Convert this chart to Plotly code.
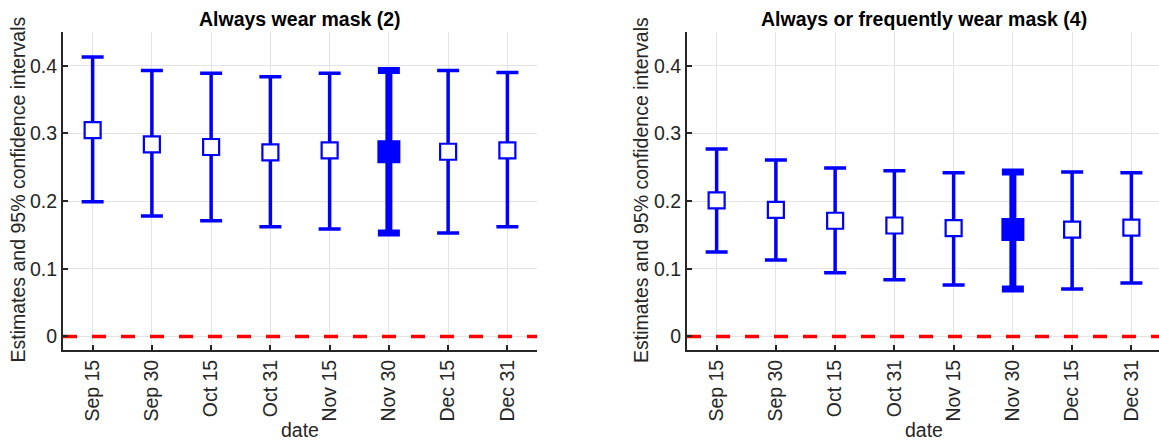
import plotly.graph_objects as go

# ---- data ----
dates = ["Sep 15", "Sep 30", "Oct 15", "Oct 31", "Nov 15", "Nov 30", "Dec 15", "Dec 31"]
positions = [1, 2, 3, 4, 5, 6, 7, 8]
highlight_date = "Nov 30"

always_est = [0.305, 0.284, 0.280, 0.272, 0.275, 0.273, 0.273, 0.275]
always_lo = [0.199, 0.178, 0.171, 0.162, 0.159, 0.153, 0.153, 0.162]
always_hi = [0.413, 0.393, 0.389, 0.384, 0.389, 0.393, 0.393, 0.390]

freq_est = [0.201, 0.187, 0.171, 0.164, 0.160, 0.158, 0.158, 0.161]
freq_lo = [0.125, 0.113, 0.094, 0.084, 0.076, 0.070, 0.070, 0.079]
freq_hi = [0.277, 0.261, 0.249, 0.245, 0.242, 0.243, 0.243, 0.242]

y_ticks = [0, 0.1, 0.2, 0.3, 0.4]
y_tick_text = ["0", "0.1", "0.2", "0.3", "0.4"]

titles = ["Always wear mask (2)", "Always or frequently wear mask (4)"]
y_title = "Estimates and 95% confidence intervals"
x_title = "date"

# ---- figure ----
W, H = 1159, 440
FONT = "Liberation Sans, Arial, Helvetica, sans-serif"
DARK = "#262626"
BLUE = "#0000ff"
FS = 19.5

fig = go.Figure()

panels = [(always_est, always_lo, always_hi, "x", "y"),
          (freq_est, freq_lo, freq_hi, "x2", "y2")]

for est, lo, hi, xa, ya in panels:
    # reference line at zero
    fig.add_trace(go.Scatter(x=[0.5, 8.5], y=[0, 0], mode="lines",
                             line=dict(color="#ff0000", width=3.5, dash="14px,15px"),
                             xaxis=xa, yaxis=ya, showlegend=False, hoverinfo="skip"))
    idx_n = [i for i, d in enumerate(dates) if d != highlight_date]
    idx_h = [i for i, d in enumerate(dates) if d == highlight_date]
    for idx, thick, mline, mcol, msize in [(idx_n, 3.5, 2.2, "white", 16),
                                            (idx_h, 7, 6, BLUE, 17)]:
        fig.add_trace(go.Scatter(
            x=[positions[i] for i in idx],
            y=[est[i] for i in idx],
            mode="markers",
            marker=dict(symbol="square", size=msize, color=mcol,
                        line=dict(color=BLUE, width=mline)),
            error_y=dict(type="data", symmetric=False,
                         array=[hi[i] - est[i] for i in idx],
                         arrayminus=[est[i] - lo[i] for i in idx],
                         color=BLUE, thickness=thick, width=11),
            xaxis=xa, yaxis=ya, showlegend=False))

axis_common = dict(showline=True, linecolor=DARK, linewidth=2, mirror=False,
                   ticks="inside", ticklen=5, tickwidth=1.5, tickcolor=DARK,
                   showgrid=True, gridcolor="#e3e3e3", gridwidth=1, zeroline=False,
                   tickfont=dict(family=FONT, size=FS, color=DARK))

left_dom = [63 / W, 537 / W]
right_dom = [687 / W, 1.0]
px_per_unit = (537 - 63) / 8.0
right_max = 0.5 + (W - 687) / px_per_unit

fig.update_layout(
    width=W, height=H,
    margin=dict(l=0, r=0, t=32, b=90),
    paper_bgcolor="white", plot_bgcolor="white",
    xaxis=dict(domain=left_dom, range=[0.5, 8.5], tickvals=positions, ticktext=dates,
               tickangle=-90, anchor="y", **axis_common),
    yaxis=dict(domain=[0, 1], range=[-0.02, 0.45], tickvals=y_ticks, ticktext=y_tick_text,
               anchor="x", **axis_common),
    xaxis2=dict(domain=right_dom, range=[0.5, right_max], tickvals=positions, ticktext=dates,
                tickangle=-90, anchor="y2", **axis_common),
    yaxis2=dict(domain=[0, 1], range=[-0.02, 0.45], tickvals=y_ticks, ticktext=y_tick_text,
                anchor="x2", **axis_common),
)

plot_h = H - 32 - 90


def py(pix):
    return (H - 90 - pix) / plot_h


annots = []
centers = [(63 + 537) / 2, (687 + 1161.5) / 2]
ylab_x = [17.5, 641]
for k in range(2):
    annots.append(dict(text="<b>" + titles[k] + "</b>", x=centers[k] / W, y=py(19),
                       xref="paper", yref="paper", xanchor="center", yanchor="middle",
                       showarrow=False, font=dict(family=FONT, size=FS, color="black")))
    annots.append(dict(text=x_title, x=centers[k] / W, y=py(430),
                       xref="paper", yref="paper", xanchor="center", yanchor="middle",
                       showarrow=False, font=dict(family=FONT, size=FS, color=DARK)))
    annots.append(dict(text=y_title, x=ylab_x[k] / W, y=py(190), textangle=-90,
                       xref="paper", yref="paper", xanchor="center", yanchor="middle",
                       showarrow=False, font=dict(family=FONT, size=FS, color=DARK)))
fig.update_layout(annotations=annots)

fig.write_html("out.html")
